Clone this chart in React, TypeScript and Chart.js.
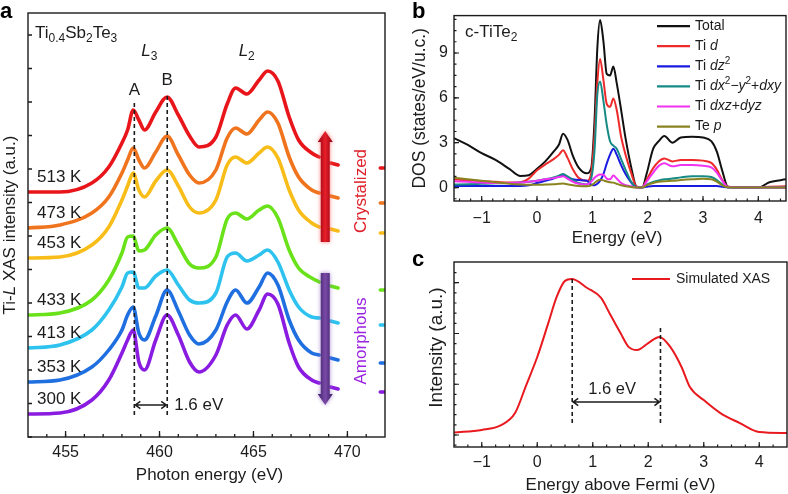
import React, { useEffect, useRef } from "react";
import { Chart, registerables } from "chart.js";

Chart.register(...registerables);

const FONT = "'Liberation Sans', Arial, Helvetica, sans-serif";
const INK = "#1c1c1c";

// ---------------- Panel a: Ti-L XAS ----------------
const photonEnergy = [453, 454.7, 456.4, 457.3, 458.0, 458.3, 458.6, 458.9, 459.2, 459.8, 460.4, 461.0, 461.6, 462.1, 463.0, 463.6, 464.05, 464.65, 465.3, 465.75, 466.3, 466.9, 467.4, 468.1, 468.5];
const tailEnergy = [469.1, 469.5];
const edgeEnergy = [471.75, 472.0];
const photonTicks = [455, 460, 465, 470];
const temperatures = ["513 K", "473 K", "453 K", "433 K", "413 K", "353 K", "300 K"];
const xas513 = [245, 245, 254, 270, 294, 307, 327, 317, 307, 325, 340, 322, 301, 290, 300, 333, 349, 343, 357, 366, 356, 320, 297, 284, 280, 274, 272, 269, 269];
const xas473 = [209, 212, 224, 240, 264, 277, 289, 277, 269, 285, 301, 282, 262, 254, 267, 299, 309, 303, 317, 325, 314, 280, 260, 247, 244, 241, 239, 234, 234];
const xas453 = [179, 180, 192, 210, 237, 251, 264, 247, 240, 256, 267, 251, 230, 224, 237, 272, 280, 274, 284, 290, 279, 247, 227, 214, 210, 208, 206, 204, 204];
const xas433 = [122, 124, 137, 157, 184, 200, 201, 186, 187, 202, 209, 192, 173, 169, 180, 218, 224, 218, 227, 231, 219, 187, 169, 159, 155, 151, 149, 147, 147];
const xas413 = [89, 92, 107, 127, 150, 164, 165, 149, 149, 161, 167, 152, 137, 134, 144, 180, 184, 176, 182, 187, 175, 147, 130, 120, 119, 116, 114, 112, 112];
const xas353 = [55, 57, 70, 87, 107, 122, 130, 104, 97, 121, 147, 126, 102, 93, 107, 135, 147, 134, 150, 164, 152, 117, 97, 84, 82, 79, 77, 74, 74];
const xas300 = [23, 24, 37, 57, 84, 97, 107, 75, 67, 97, 122, 102, 75, 65, 82, 112, 122, 108, 127, 143, 133, 94, 70, 57, 54, 50, 48, 45, 45];
const xasCurves = [xas513, xas473, xas453, xas433, xas413, xas353, xas300];
const peakA = 458.66;
const peakB = 460.41;

const curveColors = ["#e8161b", "#f0741e", "#f8bd19", "#6ae21a", "#2ec2ee", "#1f6fe0", "#8a1be0"];

// ---------------- Panel b: DOS ----------------
const dosEnergy = [-1.5, -1.25, -1.0, -0.75, -0.5, -0.3, -0.15, 0.0, 0.15, 0.3, 0.4, 0.47, 0.55, 0.65, 0.75, 0.9, 0.98, 1.04, 1.09, 1.14, 1.2, 1.26, 1.32, 1.38, 1.44, 1.52, 1.6, 1.7, 1.8, 1.9, 1.98, 2.1, 2.2, 2.3, 2.45, 2.6, 2.8, 3.0, 3.15, 3.25, 3.35, 3.45, 3.7, 4.0, 4.2, 4.5];
const dosTotal = [3.3, 2.85, 2.3, 1.85, 1.25, 0.78, 0.82, 1.25, 1.75, 2.4, 2.9, 3.6, 3.2, 2.1, 1.35, 0.95, 1.3, 4.5, 9.3, 11.2, 9.8, 7.6, 7.5, 8.1, 7.0, 5.2, 3.3, 1.4, 0.05, 0.0, 0.9, 2.6, 3.1, 3.45, 3.0, 3.35, 3.4, 3.35, 3.1, 2.4, 1.1, 0.05, 0.0, 0.0, 0.35, 0.55];
const dosTiD = [0.55, 0.48, 0.42, 0.38, 0.33, 0.35, 0.6, 1.15, 1.55, 1.9, 2.2, 2.5, 2.0, 1.2, 0.65, 0.45, 1.0, 3.5, 7.0, 8.6, 7.2, 5.6, 5.4, 5.95, 5.2, 3.4, 2.2, 1.0, 0.05, 0.0, 0.5, 1.3, 1.75, 1.95, 1.75, 1.85, 1.85, 1.8, 1.65, 1.2, 0.5, 0.05, 0.02, 0.02, 0.05, 0.08];
const dosTiDz2 = [0.1, 0.1, 0.1, 0.1, 0.1, 0.1, 0.15, 0.3, 0.45, 0.6, 0.75, 0.85, 0.7, 0.55, 0.5, 0.45, 0.2, 0.15, 0.25, 0.45, 0.9, 1.6, 2.2, 2.6, 2.2, 1.5, 0.9, 0.35, 0.02, 0.0, 0.05, 0.1, 0.1, 0.1, 0.1, 0.1, 0.1, 0.1, 0.1, 0.1, 0.05, 0.0, 0.0, 0.0, 0.0, 0.0];
const dosTiDx2y2 = [0.2, 0.22, 0.25, 0.28, 0.3, 0.33, 0.38, 0.45, 0.55, 0.68, 0.8, 0.9, 0.75, 0.5, 0.3, 0.2, 0.6, 2.5, 6.2, 7.1, 5.8, 4.2, 3.1, 2.8, 2.6, 1.9, 1.2, 0.4, 0.02, 0.0, 0.2, 0.38, 0.48, 0.55, 0.6, 0.68, 0.75, 0.75, 0.7, 0.5, 0.2, 0.02, 0.0, 0.0, 0.0, 0.0];
const dosTiDxz = [0.42, 0.38, 0.33, 0.3, 0.3, 0.33, 0.38, 0.45, 0.55, 0.63, 0.7, 0.76, 0.6, 0.38, 0.25, 0.2, 0.4, 0.65, 0.8, 0.87, 0.85, 0.6, 0.55, 0.8, 0.6, 0.3, 0.15, 0.08, 0.0, 0.0, 0.4, 1.0, 1.45, 1.62, 1.42, 1.5, 1.5, 1.45, 1.35, 1.0, 0.45, 0.03, 0.0, 0.0, 0.0, 0.0];
const dosTeP = [0.65, 0.55, 0.45, 0.35, 0.25, 0.2, 0.18, 0.18, 0.2, 0.22, 0.25, 0.27, 0.22, 0.15, 0.1, 0.08, 0.15, 0.3, 0.45, 0.52, 0.48, 0.4, 0.35, 0.33, 0.25, 0.15, 0.08, 0.03, 0.0, 0.0, 0.15, 0.3, 0.38, 0.42, 0.45, 0.5, 0.55, 0.58, 0.55, 0.4, 0.15, 0.02, 0.0, 0.0, 0.0, 0.0];
const dosSeries = [dosTotal, dosTiD, dosTiDz2, dosTiDx2y2, dosTiDxz, dosTeP];
const dosColors = ["#111111", "#ee2a2a", "#1a1ae0", "#168a84", "#f033f0", "#8a8420"];
const energyTicks = [-1, 0, 1, 2, 3, 4];
const dosTicks = [0, 3, 6, 9];

// ---------------- Panel c: simulated XAS ----------------
const fermiEnergy = [-1.5, -1.0, -0.65, -0.4, -0.2, 0.0, 0.2, 0.35, 0.5, 0.62, 0.9, 1.15, 1.3, 1.5, 1.65, 1.8, 2.0, 2.2, 2.4, 2.6, 2.75, 3.0, 3.3, 3.65, 4.0, 4.5];
const simulatedXAS = [0.012, 0.025, 0.049, 0.108, 0.245, 0.384, 0.552, 0.68, 0.759, 0.768, 0.724, 0.675, 0.601, 0.502, 0.433, 0.419, 0.453, 0.483, 0.433, 0.335, 0.236, 0.172, 0.108, 0.059, 0.015, 0.01];
const simPeaks = [0.63, 2.22];

// ---------------- helpers ----------------
type Seg = { t: string; i?: boolean; sub?: boolean; sup?: boolean };
const segFont = (s: Seg, size: number, bold = false) =>
  `${s.i ? "italic " : ""}${bold ? "bold " : ""}${s.sub || s.sup ? Math.round(size * 0.7) : size}px ${FONT}`;

function richWidth(ctx: CanvasRenderingContext2D, segs: Seg[], size: number) {
  let w = 0;
  for (const s of segs) {
    ctx.font = segFont(s, size);
    w += ctx.measureText(s.t).width;
  }
  return w;
}

function drawRich(ctx: CanvasRenderingContext2D, segs: Seg[], x: number, y: number, size: number, align = "left", color = INK, bold = false) {
  ctx.save();
  ctx.fillStyle = color;
  ctx.textBaseline = "middle";
  ctx.textAlign = "left";
  const w = richWidth(ctx, segs, size);
  let cx = align === "center" ? x - w / 2 : align === "right" ? x - w : x;
  for (const s of segs) {
    ctx.font = segFont(s, size, bold);
    const dy = s.sub ? size * 0.32 : s.sup ? -size * 0.36 : 0;
    ctx.fillText(s.t, cx, y + dy);
    cx += ctx.measureText(s.t).width;
  }
  ctx.restore();
}

function drawRotated(ctx: CanvasRenderingContext2D, segs: Seg[], x: number, y: number, size: number, color = INK) {
  ctx.save();
  ctx.translate(x, y);
  ctx.rotate(-Math.PI / 2);
  drawRich(ctx, segs, 0, 0, size, "center", color);
  ctx.restore();
}

function range(a: number, b: number, step: number) {
  const out: number[] = [];
  for (let k = 0; a + k * step <= b + 1e-9; k++) out.push(+(a + k * step).toFixed(5));
  return out;
}

function tickMarks(ctx: CanvasRenderingContext2D, scale: any, values: number[], len: number, ca: any, side: string) {
  ctx.beginPath();
  for (const v of values) {
    const p = scale.getPixelForValue(v);
    if (side === "bottom") {
      ctx.moveTo(p, ca.bottom);
      ctx.lineTo(p, ca.bottom - len);
    } else {
      ctx.moveTo(ca.left, p);
      ctx.lineTo(ca.left + len, p);
    }
  }
  ctx.stroke();
}

function frame(ctx: CanvasRenderingContext2D, ca: any) {
  ctx.save();
  ctx.strokeStyle = INK;
  ctx.lineWidth = 1.4;
  ctx.strokeRect(ca.left, ca.top, ca.right - ca.left, ca.bottom - ca.top);
  ctx.restore();
}

function dashedV(ctx: CanvasRenderingContext2D, x: number, y1: number, y2: number) {
  ctx.save();
  ctx.strokeStyle = INK;
  ctx.lineWidth = 1.6;
  ctx.setLineDash([4, 3]);
  ctx.beginPath();
  ctx.moveTo(x, y1);
  ctx.lineTo(x, y2);
  ctx.stroke();
  ctx.restore();
}

function doubleArrow(ctx: CanvasRenderingContext2D, x1: number, x2: number, y: number, head = 6) {
  ctx.save();
  ctx.strokeStyle = INK;
  ctx.lineWidth = 1.5;
  ctx.beginPath();
  ctx.moveTo(x1 + 1, y);
  ctx.lineTo(x2 - 1, y);
  ctx.moveTo(x1 + head, y - head * 0.6);
  ctx.lineTo(x1 + 1, y);
  ctx.lineTo(x1 + head, y + head * 0.6);
  ctx.moveTo(x2 - head, y - head * 0.6);
  ctx.lineTo(x2 - 1, y);
  ctx.lineTo(x2 - head, y + head * 0.6);
  ctx.stroke();
  ctx.restore();
}

function blockArrow(ctx: CanvasRenderingContext2D, x: number, yTail: number, yTip: number, shaftW: number, headW: number, headL: number, dark: string, light: string, glow: string) {
  ctx.save();
  const dir = yTip < yTail ? -1 : 1;
  const yNeck = yTip - dir * headL;
  const g = ctx.createLinearGradient(x - headW / 2, 0, x + headW / 2, 0);
  g.addColorStop(0, dark);
  g.addColorStop(0.5, light);
  g.addColorStop(1, dark);
  ctx.shadowColor = glow;
  ctx.shadowBlur = 4;
  ctx.fillStyle = g;
  ctx.beginPath();
  ctx.moveTo(x - shaftW / 2, yTail);
  ctx.lineTo(x - shaftW / 2, yNeck);
  ctx.lineTo(x - headW / 2, yNeck);
  ctx.lineTo(x, yTip);
  ctx.lineTo(x + headW / 2, yNeck);
  ctx.lineTo(x + shaftW / 2, yNeck);
  ctx.lineTo(x + shaftW / 2, yTail);
  ctx.closePath();
  ctx.fill();
  ctx.restore();
}

const axisFont = { family: FONT, size: 16 };
const minusLabel = (v: any) => (Number(v) < 0 ? "\u2212" + Math.abs(Number(v)) : String(v));

// ---------------- Panel a chart ----------------
const curvePoints = (vals: number[]) => {
  const n1 = photonEnergy.length;
  const n2 = tailEnergy.length;
  return [
    ...photonEnergy.map((x, i) => ({ x, y: vals[i] })),
    { x: 468.8, y: null },
    ...tailEnergy.map((x, i) => ({ x, y: vals[n1 + i] })),
    { x: 470.5, y: null },
    ...edgeEnergy.map((x, i) => ({ x, y: vals[n1 + n2 + i] })),
  ];
};

const panelAPlugin = {
  id: "panelA",
  afterDraw(chart: any) {
    const { ctx, chartArea: ca } = chart;
    const xs = chart.scales.x;
    const ys = chart.scales.y;
    const X = (v: number) => xs.getPixelForValue(v);
    const Y = (v: number) => ys.getPixelForValue(v);
    ctx.save();
    frame(ctx, ca);
    ctx.strokeStyle = INK;
    ctx.lineWidth = 1.3;
    tickMarks(ctx, xs, range(455, 470, 5), 6, ca, "bottom");
    tickMarks(ctx, xs, range(454, 471, 1), 3, ca, "bottom");
    tickMarks(ctx, ys, range(0, 402, 33.5), 4, ca, "left");

    dashedV(ctx, X(peakA), Y(22), Y(334));
    dashedV(ctx, X(peakB), Y(22), Y(342));
    drawRich(ctx, [{ t: "A" }], X(peakA), Y(347), 17, "center");
    drawRich(ctx, [{ t: "B" }], X(peakB), Y(357), 17, "center");
    doubleArrow(ctx, X(peakA), X(peakB), Y(32), 6);
    drawRich(ctx, [{ t: "1.6 eV" }], X(460.78), Y(32), 17, "left");

    drawRich(ctx, [{ t: "Ti" }, { t: "0.4", sub: true }, { t: "Sb" }, { t: "2", sub: true }, { t: "Te" }, { t: "3", sub: true }], X(453.37), Y(404), 17, "left");
    drawRich(ctx, [{ t: "L", i: true }, { t: "3", sub: true }], X(459.46), Y(386), 17, "center");
    drawRich(ctx, [{ t: "L", i: true }, { t: "2", sub: true }], X(464.64), Y(386), 17, "center");

    temperatures.forEach((label, k) => {
      drawRich(ctx, [{ t: label }], X(453.48), Y(xasCurves[k][0] + 15), 17, "left");
    });

    blockArrow(ctx, X(468.82), Y(195), Y(306), 9, 15, 11, "#8e0010", "#e8202a", "rgba(255,110,110,0.9)");
    blockArrow(ctx, X(468.82), Y(164), Y(32), 9, 15, 11, "#3b2063", "#7a4aa8", "rgba(150,110,200,0.8)");
    drawRotated(ctx, [{ t: "Crystalized" }], X(470.72), Y(246), 17, "#e0202a");
    drawRotated(ctx, [{ t: "Amorphous" }], X(470.72), Y(96), 17, "#9a22e0");

    drawRich(ctx, [{ t: "Photon energy (eV)" }], (ca.left + ca.right) / 2 + 3, ca.bottom + 38, 17, "center");
    drawRotated(ctx, [{ t: "Ti-" }, { t: "L", i: true }, { t: " XAS intensity (a.u.)" }], 10, (ca.top + ca.bottom) / 2, 17);
    drawRich(ctx, [{ t: "a" }], 0, 12, 22, "left", "#000", true);
    ctx.restore();
  },
};

const configA = (): any => ({
  type: "line",
  data: {
    datasets: xasCurves.map((vals, k) => ({
      label: temperatures[k],
      data: curvePoints(vals),
      borderColor: curveColors[k],
      borderWidth: 3.6,
      pointRadius: 0,
      cubicInterpolationMode: "monotone",
      fill: false,
      spanGaps: false,
      borderCapStyle: "round",
      borderJoinStyle: "round",
    })),
  },
  options: {
    responsive: false,
    animation: false,
    devicePixelRatio: 1,
    events: [],
    layout: { padding: { left: 28, top: 13, right: 15, bottom: 0 } },
    plugins: { legend: { display: false }, tooltip: { enabled: false } },
    scales: {
      x: {
        type: "linear",
        min: 453,
        max: 472,
        afterBuildTicks: (s: any) => {
          s.ticks = photonTicks.map((v) => ({ value: v }));
        },
        afterFit: (s: any) => {
          s.height = 57;
        },
        grid: { display: false, drawTicks: false },
        border: { display: false },
        ticks: { font: axisFont, color: INK, padding: 6, maxRotation: 0, autoSkip: false },
      },
      y: { type: "linear", min: 0, max: 424, display: false },
    },
  },
  plugins: [panelAPlugin],
});

// ---------------- Panel b chart ----------------
const dosLegend: Seg[][] = [
  [{ t: "Total" }],
  [{ t: "Ti " }, { t: "d", i: true }],
  [{ t: "Ti " }, { t: "dz", i: true }, { t: "2", sup: true }],
  [{ t: "Ti " }, { t: "dx", i: true }, { t: "2", sup: true }, { t: "\u2212" }, { t: "y", i: true }, { t: "2", sup: true }, { t: "+" }, { t: "dxy", i: true }],
  [{ t: "Ti " }, { t: "dxz", i: true }, { t: "+" }, { t: "dyz", i: true }],
  [{ t: "Te " }, { t: "p", i: true }],
];

const panelBPlugin = {
  id: "panelB",
  afterDraw(chart: any) {
    const { ctx, chartArea: ca } = chart;
    const xs = chart.scales.x;
    const ys = chart.scales.y;
    ctx.save();
    frame(ctx, ca);
    ctx.strokeStyle = INK;
    ctx.lineWidth = 1.2;
    tickMarks(ctx, xs, range(-1, 4, 1), 5, ca, "bottom");
    tickMarks(ctx, xs, range(-1.4, 4.4, 0.2), 2.5, ca, "bottom");
    tickMarks(ctx, ys, range(0, 9, 3), 5, ca, "left");
    tickMarks(ctx, ys, range(-0.75, 11.25, 0.75), 2.5, ca, "left");

    dosLegend.forEach((segs, k) => {
      const y = ca.top + 10.5 + k * 20.1;
      ctx.strokeStyle = dosColors[k];
      ctx.lineWidth = 2.2;
      ctx.beginPath();
      ctx.moveTo(ca.left + 203, y);
      ctx.lineTo(ca.left + 236, y);
      ctx.stroke();
      drawRich(ctx, segs, ca.left + 241, y, 14, "left");
    });
    drawRich(ctx, [{ t: "c-TiTe" }, { t: "2", sub: true }], ca.left + 11, ca.top + 17, 17, "left");
    drawRich(ctx, [{ t: "Energy (eV)" }], (ca.left + ca.right) / 2 - 3, ca.bottom + 37, 17, "center");
    drawRotated(ctx, [{ t: "DOS (states/eV/u.c.)" }], 20, (ca.top + ca.bottom) / 2, 17.5);
    drawRich(ctx, [{ t: "b" }], 12, 12, 22, "left", "#000", true);
    ctx.restore();
  },
};

const configB = (): any => ({
  type: "line",
  data: {
    datasets: dosSeries.map((vals, k) => ({
      data: dosEnergy.map((x, i) => ({ x, y: vals[i] })),
      borderColor: dosColors[k],
      borderWidth: 2,
      pointRadius: 0,
      cubicInterpolationMode: "monotone",
      fill: false,
      order: k === 0 ? 10 : 6 - k,
    })),
  },
  options: {
    responsive: false,
    animation: false,
    devicePixelRatio: 1,
    events: [],
    layout: { padding: { left: 0, top: 15, right: 2, bottom: 0 } },
    plugins: { legend: { display: false }, tooltip: { enabled: false } },
    scales: {
      x: {
        type: "linear",
        min: -1.5,
        max: 4.5,
        afterBuildTicks: (s: any) => {
          s.ticks = energyTicks.map((v) => ({ value: v }));
        },
        afterFit: (s: any) => {
          s.height = 49;
        },
        grid: { display: false, drawTicks: false },
        border: { display: false },
        ticks: { font: axisFont, color: INK, padding: 8, maxRotation: 0, autoSkip: false, callback: minusLabel },
      },
      y: {
        type: "linear",
        min: -0.9,
        max: 11.5,
        afterBuildTicks: (s: any) => {
          s.ticks = dosTicks.map((v) => ({ value: v }));
        },
        afterFit: (s: any) => {
          s.width = 54;
        },
        grid: { display: false, drawTicks: false },
        border: { display: false },
        ticks: { font: axisFont, color: INK, padding: 6, autoSkip: false },
      },
    },
  },
  plugins: [panelBPlugin],
});

// ---------------- Panel c chart ----------------
const panelCPlugin = {
  id: "panelC",
  afterDraw(chart: any) {
    const { ctx, chartArea: ca } = chart;
    const xs = chart.scales.x;
    const ys = chart.scales.y;
    const X = (v: number) => xs.getPixelForValue(v);
    const Y = (v: number) => ys.getPixelForValue(v);
    ctx.save();
    frame(ctx, ca);
    ctx.strokeStyle = INK;
    ctx.lineWidth = 1.2;
    tickMarks(ctx, xs, range(-1, 4, 1), 5, ca, "bottom");
    tickMarks(ctx, xs, range(-1.25, 4.25, 0.25), 2.5, ca, "bottom");
    tickMarks(ctx, ys, range(0, 0.75, 0.25), 5, ca, "left");
    tickMarks(ctx, ys, range(-0.05, 0.8, 0.05), 2.5, ca, "left");

    dashedV(ctx, X(simPeaks[0]), Y(0.059), Y(0.768));
    dashedV(ctx, X(simPeaks[1]), Y(0.059), Y(0.532));
    doubleArrow(ctx, X(simPeaks[0]), X(simPeaks[1]), Y(0.163), 6);
    drawRich(ctx, [{ t: "1.6 eV" }], X(1.35), Y(0.222), 16.5, "center");

    ctx.strokeStyle = "#e8191f";
    ctx.lineWidth = 2;
    ctx.beginPath();
    ctx.moveTo(ca.left + 178, ca.top + 17);
    ctx.lineTo(ca.left + 216, ca.top + 17);
    ctx.stroke();
    drawRich(ctx, [{ t: "Simulated XAS" }], ca.left + 222, ca.top + 17, 14, "left");

    drawRich(ctx, [{ t: "Energy above Fermi (eV)" }], (ca.left + ca.right) / 2, ca.bottom + 38, 17, "center");
    drawRotated(ctx, [{ t: "Intensity (a.u.)" }], 37, (ca.top + ca.bottom) / 2 - 7, 19);
    drawRich(ctx, [{ t: "c" }], 12, 10, 22, "left", "#000", true);
    ctx.restore();
  },
};

const configC = (): any => ({
  type: "line",
  data: {
    datasets: [
      {
        label: "Simulated XAS",
        data: fermiEnergy.map((x, i) => ({ x, y: simulatedXAS[i] })),
        borderColor: "#e8191f",
        borderWidth: 2,
        pointRadius: 0,
        cubicInterpolationMode: "monotone",
        fill: false,
      },
    ],
  },
  options: {
    responsive: false,
    animation: false,
    devicePixelRatio: 1,
    events: [],
    layout: { padding: { left: 54, top: 12, right: 1, bottom: 0 } },
    plugins: { legend: { display: false }, tooltip: { enabled: false } },
    scales: {
      x: {
        type: "linear",
        min: -1.5,
        max: 4.5,
        afterBuildTicks: (s: any) => {
          s.ticks = energyTicks.map((v) => ({ value: v }));
        },
        afterFit: (s: any) => {
          s.height = 47;
        },
        grid: { display: false, drawTicks: false },
        border: { display: false },
        ticks: { font: axisFont, color: INK, padding: 6, maxRotation: 0, autoSkip: false, callback: minusLabel },
      },
      y: { type: "linear", min: -0.059, max: 0.852, display: false },
    },
  },
  plugins: [panelCPlugin],
});

export default function App() {
  const refA = useRef<HTMLCanvasElement>(null);
  const refB = useRef<HTMLCanvasElement>(null);
  const refC = useRef<HTMLCanvasElement>(null);

  useEffect(() => {
    const charts = [
      new Chart(refA.current as HTMLCanvasElement, configA()),
      new Chart(refB.current as HTMLCanvasElement, configB()),
      new Chart(refC.current as HTMLCanvasElement, configC()),
    ];
    return () => charts.forEach((c) => c.destroy());
  }, []);

  return (
    <div style={{ position: "fixed", left: 0, top: 0, width: 788, height: 494, background: "#fff", overflow: "hidden" }}>
      <canvas ref={refA} width={400} height={494} style={{ position: "absolute", left: 0, top: 0, width: 400, height: 494 }} />
      <canvas ref={refB} width={388} height={250} style={{ position: "absolute", left: 400, top: 0, width: 388, height: 250 }} />
      <canvas ref={refC} width={388} height={244} style={{ position: "absolute", left: 400, top: 250, width: 388, height: 244 }} />
    </div>
  );
}
